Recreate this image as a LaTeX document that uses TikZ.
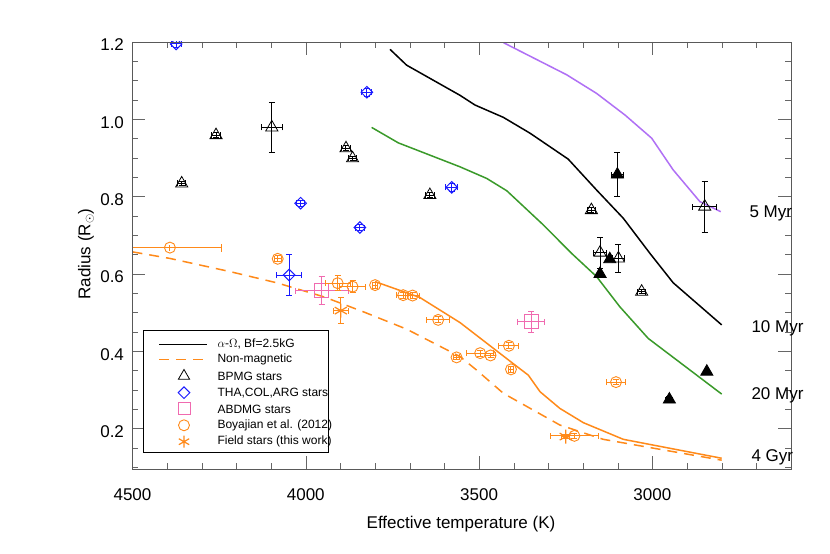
\documentclass[tikz,border=0pt]{standalone}
\usepackage{fontspec}
\setmainfont{Liberation Sans}
\usetikzlibrary{shapes.geometric,plotmarks}
\definecolor{cpur}{HTML}{B070F5}
\definecolor{cgrn}{HTML}{3A9A2A}
\definecolor{corg}{HTML}{FF8A1A}
\definecolor{cblu}{HTML}{1A1AFF}
\definecolor{cpnk}{HTML}{F06AB0}
\tikzset{
 tri/.style={regular polygon,regular polygon sides=3,draw=black,thick,inner sep=0pt,minimum size=14pt},
 ftri/.style={tri,fill=black},
 dia/.style={diamond,draw=cblu,line width=1pt,inner sep=0pt,minimum size=12pt},
 sq/.style={rectangle,draw=cpnk,line width=1pt,inner sep=0pt,minimum size=12pt},
 circ/.style={circle,draw=corg,line width=0.9pt,inner sep=0pt,minimum size=11pt},
 eb/.style={line width=1pt},
 curve/.style={line width=1.5pt},
 lbl/.style={font=\fontsize{17}{17}\selectfont},
 leg/.style={font=\fontsize{12}{12}\selectfont,anchor=west}
}
\newcommand\EB[5]{% T R dT dR color
 \draw[eb,#5] ({#1-#3},#2) -- ({#1+#3},#2);
 \draw[eb,#5] ({#1-#3},#2) ++(0,-3pt) -- ++(0,6pt);
 \draw[eb,#5] ({#1+#3},#2) ++(0,-3pt) -- ++(0,6pt);
 \draw[eb,#5] (#1,{#2-#4}) -- (#1,{#2+#4});
 \draw[eb,#5] (#1,{#2-#4}) ++(-3pt,0) -- ++(6pt,0);
 \draw[eb,#5] (#1,{#2+#4}) ++(-3pt,0) -- ++(6pt,0);}
\begin{document}
\begin{tikzpicture}[x=1pt,y=1pt]
\useasboundingbox (0,0) rectangle (830,554);
\fill[white] (0,0) rectangle (830,554);
\begin{scope}[x=-0.3466pt,y=386.5pt,shift={(1692.2pt,48.2pt)}]
 \coordinate (bl) at (4500,0.0944);
 \coordinate (tr) at (2600,1.2);
 \foreach \t in {4500,4000,3500,3000}{
  \draw[gray!80!black] (\t,0.0944) -- ++(0,13pt);
  \draw[gray!80!black] (\t,1.2) -- ++(0,-13pt);}
 \foreach \t in {4400,4300,4200,4100,3900,3800,3700,3600,3400,3300,3200,3100,2900,2800,2700}{
  \draw[gray!80!black] (\t,0.0944) -- ++(0,6pt);
  \draw[gray!80!black] (\t,1.2) -- ++(0,-6pt);}
 \foreach \r in {0.2,0.4,0.6,0.8,1.0,1.2}{
  \draw[gray!80!black] (4500,\r) -- ++(13pt,0);
  \draw[gray!80!black] (2600,\r) -- ++(-13pt,0);}
 \foreach \r in {0.1,0.15,0.25,0.3,0.35,0.45,0.5,0.55,0.65,0.7,0.75,0.85,0.9,0.95,1.05,1.1,1.15}{
  \draw[gray!80!black] (4500,\r) -- ++(6pt,0);
  \draw[gray!80!black] (2600,\r) -- ++(-6pt,0);}
 \foreach \t in {4500,4000,3500,3000}{
  \node[lbl] (xl\t) at (\t,0.0944) [yshift=-25pt] {\t};}
 \foreach \r/\s in {0.2/0.2,0.4/0.4,0.6/0.6,0.8/0.8,1.0/1.0,1.2/1.2}{
  \node[lbl,anchor=east] (yl\s) at (4500,\r) [xshift=-5pt,yshift=-3pt] {\s};}
 \begin{scope}
 \clip (bl) rectangle (tr);
 \draw[curve,cpur] (3429,1.198) -- (3247,1.115) -- (3161,1.067) -- (3079,1.011) -- (3002,0.951) -- (2940,0.869) -- (2863,0.787) -- (2803,0.761);
 \draw[curve,black] (3757,1.181) -- (3709,1.140) -- (3555,1.062) -- (3512,1.037) -- (3430,1.005) -- (3353,0.964) -- (3243,0.897) -- (3161,0.817) -- (3084,0.744) -- (3007,0.653) -- (2940,0.577) -- (2800,0.468);
 \draw[curve,cgrn] (3810,0.979) -- (3733,0.939) -- (3555,0.877) -- (3478,0.847) -- (3420,0.815) -- (3315,0.727) -- (3233,0.653) -- (3161,0.593) -- (3094,0.515) -- (3012,0.433) -- (2800,0.289);
 \draw[curve,corg] (3800,0.580) -- (3671,0.539) -- (3555,0.474) -- (3396,0.364) -- (3358,0.338) -- (3324,0.295) -- (3267,0.252) -- (3199,0.215) -- (3084,0.172) -- (2800,0.123);
 \draw[curve,corg,dash pattern=on 10pt off 7pt] (4500,0.657) -- (4392,0.640) -- (4219,0.606) -- (4084,0.577) -- (3949,0.541) -- (3834,0.502) -- (3709,0.457) -- (3555,0.386) -- (3507,0.351) -- (3430,0.291) -- (3267,0.209) -- (3142,0.172) -- (2800,0.118);
 \foreach \t/\r in {4259/0.959,4358/0.834,3884/0.925,3865/0.899,3642/0.804,3176/0.765,3031/0.554}{
  \node[tri] at (\t,\r) {}; \EB{\t}{\r}{12}{0.006}{black}}
 \foreach \t/\r/\dt/\dr in {4098/0.979/31/0.065,2849/0.774/34/0.066,3151/0.655/20/0.04,3098/0.640/18/0.037}{
  \node[tri] at (\t,\r) {}; \EB{\t}{\r}{\dt}{\dr}{black}}
 \foreach \t/\r/\dt/\dr in {3101/0.857/18/0.057,3123/0.638/8/0.006,3151/0.600/8/0.006,2843/0.347/8/0.006,2951/0.275/10/0.008}{
  \node[ftri] at (\t,\r) {}; \EB{\t}{\r}{\dt}{\dr}{black}}
 \foreach \t/\r/\dt/\dr in {4374/1.195/14/0.008,3824/1.070/14/0.01,4015/0.783/12/0.008,3844/0.720/14/0.008,3579/0.824/18/0.01,4048/0.597/36/0.052}{
  \node[dia] at (\t,\r) {}; \EB{\t}{\r}{\dt}{\dr}{cblu}}
 \foreach \t/\r/\dt/\dr in {3954/0.557/77/0.037,3350/0.476/40/0.028}{
  \node[sq,minimum size=14pt] at (\t,\r) {}; \EB{\t}{\r}{\dt}{\dr}{cpnk}}
 \node[circ] at (4392,0.668) {};
 \draw[eb,corg] (4498,0.668) -- (4243,0.668);
 \draw[eb,corg] (4243,0.668) ++(0,-4pt) -- ++(0,8pt);
 \draw[eb,corg] (4392,0.660) -- (4392,0.676);
 \foreach \t/\r/\dt/\dr in {4081/0.639/10/0.008,3908/0.576/36/0.02,3865/0.567/38/0.015,3800/0.571/8/0.008,3719/0.545/20/0.008,3692/0.544/20/0.008,3618/0.481/33/0.008,3565/0.384/8/0.006,3414/0.414/29/0.008,3497/0.395/40/0.008,3467/0.389/15/0.006,3408/0.353/8/0.008,3105/0.320/27/0.006,3225/0.181/70/0.006}{
  \node[circ] at (\t,\r) {}; \EB{\t}{\r}{\dt}{\dr}{corg}}
 \foreach \t/\r/\dt/\dr in {3899/0.505/22/0.034,3250/0.179/12/0.006}{
  \draw[corg,line width=1.2pt] plot[mark=asterisk,mark size=7pt] coordinates {(\t,\r)}; \EB{\t}{\r}{\dt}{\dr}{corg}}
 \end{scope}
 \draw[gray!70!black,thick] (bl) rectangle (tr);
\end{scope}
\node[lbl,anchor=west] (l5) at (746,341) {5 Myr};
\node[lbl,anchor=west] (l10) at (748,226) {10 Myr};
\node[lbl,anchor=west] (l20) at (748,159) {20 Myr};
\node[lbl,anchor=west] (l4) at (748,97) {4 Gyr};
\node[lbl] (xt) at (461,30) {Effective temperature (K)};
\node[lbl,rotate=90] (yt) at (86,300) {Radius (R$_\odot$)};
\draw[black,thick,fill=white] (143.3,101.3) rectangle (328.3,223.3);
\draw[line width=1.5pt,black] (159.3,209.7) -- (207.3,209.7);
\draw[line width=1.5pt,corg,dash pattern=on 10pt off 7pt] (159.3,194.7) -- (207.3,194.7);
\node[tri,minimum size=13pt] (s1) at (184,178) {};
\node[dia] (s2) at (184,161.3) {};
\node[sq] (s3) at (184,145) {};
\node[circ] (s4) at (184,128.7) {};
\draw[corg,line width=1.2pt] plot[mark=asterisk,mark size=6pt] coordinates {(184,112.3)};
\node[leg] (t1) at (214,209.7) {$\alpha$-$\Omega$, Bf=2.5kG};
\node[leg] (t2) at (214,194.7) {Non-magnetic};
\node[leg] (t3) at (214,177.3) {BPMG stars};
\node[leg] (t4) at (214,161.3) {THA,COL,ARG stars};
\node[leg] (t5) at (214,145) {ABDMG stars};
\node[leg] (t6) at (214,128.7) {Boyajian et al. (2012)};
\node[leg] (t7) at (214,112.3) {Field stars (this work)};
\end{tikzpicture}
\end{document}
